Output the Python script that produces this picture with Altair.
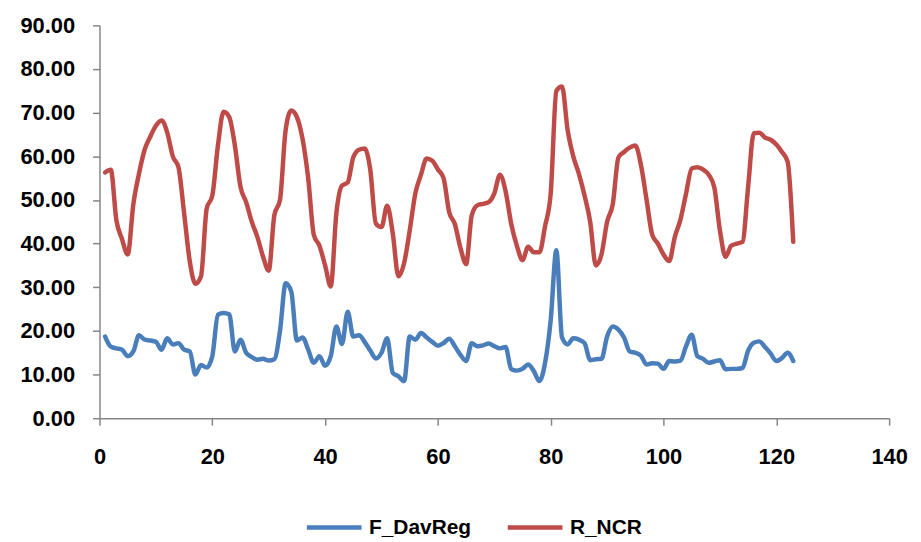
import altair as alt
import pandas as pd

x_vals = list(range(1, 124))

f_davreg = [
    18.7, 16.4, 16.0, 15.7, 14.2, 15.3, 19.0, 18.0, 17.8, 17.5,
    15.7, 18.3, 16.9, 17.2, 15.7, 15.3, 10.0, 12.2, 11.6, 14.2,
    23.7, 24.1, 23.8, 15.3, 18.0, 15.0, 14.0, 13.4, 13.6, 13.2,
    13.5, 20.0, 30.9, 29.0, 17.8, 18.5, 15.7, 12.7, 14.2, 12.0,
    14.2, 21.0, 17.0, 24.4, 18.7, 19.0, 17.5, 15.5, 13.7, 15.0,
    18.3, 10.4, 9.6, 8.5, 18.7, 18.0, 19.5, 18.5, 17.5, 16.6,
    17.2, 18.2, 16.5, 14.5, 13.1, 17.2, 16.5, 16.7, 17.1, 16.5,
    16.0, 16.3, 11.2, 10.9, 11.3, 12.3, 10.8, 8.5, 12.7, 22.5,
    38.5, 18.5, 16.9, 18.3, 18.0, 17.2, 13.3, 13.5, 13.6, 18.7,
    21.0, 20.3, 18.5, 15.3, 15.0, 14.3, 12.3, 12.6, 12.5, 11.3,
    13.1, 13.0, 13.2, 16.5, 19.1, 14.2, 13.6, 12.7, 13.0, 13.3,
    11.2, 11.3, 11.3, 11.5, 15.5, 17.3, 17.6, 16.3, 14.8, 13.1,
    13.8, 15.0, 13.1,
]

r_ncr = [
    56.3, 56.9, 45.3, 41.0, 37.5, 49.0, 56.0, 61.5, 64.5, 67.0,
    68.2, 65.5, 60.0, 57.5, 47.0, 36.0, 30.8, 32.5, 48.0, 51.0,
    62.5, 70.2, 69.0, 62.5, 53.0, 49.5, 45.0, 41.5, 37.0, 33.8,
    46.5, 50.0, 66.0, 70.5, 69.0, 64.0, 55.0, 42.0, 39.5, 35.0,
    30.2, 47.0, 53.3, 54.0, 59.8, 61.5, 61.8, 57.0, 44.6, 43.8,
    48.7, 42.3, 32.5, 35.5, 43.0, 51.5, 55.8, 59.5, 59.0, 57.0,
    55.0, 47.2, 44.5, 39.0, 35.3, 46.5, 48.8, 49.1, 49.5, 51.5,
    55.8, 52.0, 44.5, 39.5, 36.2, 39.3, 38.0, 38.0, 44.0, 51.5,
    75.0, 76.0, 66.0, 60.0, 56.0, 51.0, 45.0, 35.0, 37.5, 45.0,
    49.0, 59.7, 61.0, 62.0, 62.5, 58.0, 50.0, 42.0, 40.0, 37.5,
    36.0, 41.5, 45.5, 51.5, 57.2, 57.5, 57.0, 55.8, 52.9, 43.0,
    37.0, 39.5, 40.0, 40.4, 53.0, 65.3, 65.4, 64.3, 63.8, 62.7,
    61.0, 58.8, 40.4,
]

series_names = ["F_DavReg", "R_NCR"]
series_colors = ["#4A7EBB", "#BE4B48"]

df = pd.concat([
    pd.DataFrame({"x": x_vals, "value": f_davreg, "series": series_names[0]}),
    pd.DataFrame({"x": x_vals, "value": r_ncr, "series": series_names[1]}),
])

font = "Liberation Sans"
axis_color = "#868686"

chart = alt.Chart(df).mark_line(
    interpolate="monotone", strokeWidth=4.5, strokeCap="round", strokeJoin="round"
).encode(
    x=alt.X("x:Q", scale=alt.Scale(domain=[0, 140], nice=False),
            axis=alt.Axis(values=list(range(0, 141, 20)), title=None, grid=False,
                          labelFont=font, labelFontSize=22, labelFontWeight="bold",
                          labelColor="#000000", labelPadding=22,
                          domainColor=axis_color, domainWidth=1.5,
                          tickColor=axis_color, tickWidth=1.5, tickSize=7,
                          labelFlush=False)),
    y=alt.Y("value:Q", scale=alt.Scale(domain=[0, 90], nice=False),
            axis=alt.Axis(values=list(range(0, 91, 10)), format=".2f", title=None, grid=False,
                          labelFont=font, labelFontSize=22, labelFontWeight="bold",
                          labelColor="#000000", labelPadding=18,
                          domainColor=axis_color, domainWidth=1.5,
                          tickColor=axis_color, tickWidth=1.5, tickSize=7)),
    color=alt.Color("series:N",
                    scale=alt.Scale(domain=series_names, range=series_colors),
                    legend=alt.Legend(title=None, orient="none", direction="horizontal",
                                      legendX=206, legendY=475,
                                      symbolType="stroke", symbolSize=3025,
                                      symbolStrokeWidth=4.5,
                                      labelFont=font, labelFontSize=21, labelFontWeight="bold",
                                      labelColor="#000000", labelOffset=5,
                                      columnPadding=27)),
).properties(
    width=794,
    height=395,
    background="white",
    padding={"left": 92, "top": 16, "right": 24, "bottom": 122},
    autosize=alt.AutoSizeParams(type="none"),
).configure_view(stroke=None)

chart.save("out.html", embed_options={"renderer": "svg", "actions": False})
